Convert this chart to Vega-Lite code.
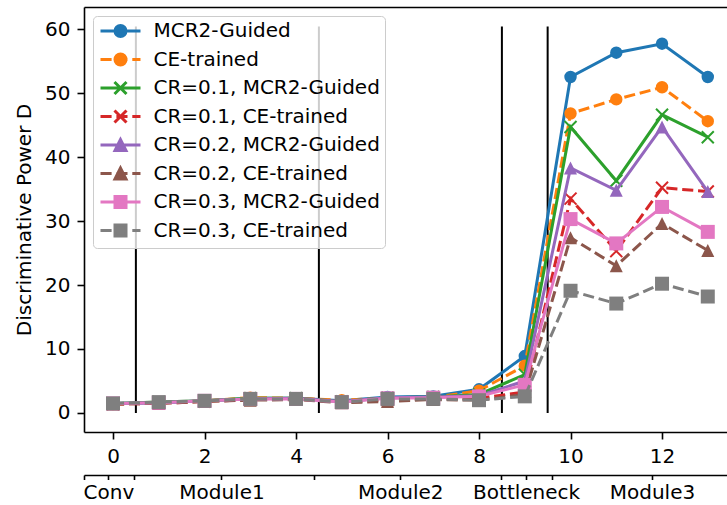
{
  "$schema": "https://vega.github.io/schema/vega-lite/v6.json",
  "width": 643,
  "height": 425,
  "autosize": {"type": "none"},
  "padding": {"left": 84, "top": 7, "right": 0, "bottom": 73},
  "config": {
    "view": {"stroke": null},
    "font": "DejaVu Sans",
    "axis": {
      "grid": false,
      "domainColor": "#000000",
      "domainWidth": 1.6,
      "tickColor": "#000000",
      "tickWidth": 1.6,
      "tickSize": 7,
      "labelColor": "#000000",
      "labelFont": "DejaVu Sans",
      "labelFontSize": 20,
      "labelPadding": 7,
      "titleColor": "#000000",
      "titleFont": "DejaVu Sans",
      "titleFontSize": 20,
      "titleFontWeight": "normal"
    },
    "legend": {"orient": "top-left", "offset": 9, "padding": 5, "fillColor": "rgba(255,255,255,0.8)", "strokeColor": "#cccccc", "cornerRadius": 4, "labelFont": "DejaVu Sans", "labelFontSize": 20, "labelColor": "#000000", "labelLimit": 400, "symbolSize": 144, "symbolStrokeWidth": 3, "symbolOffset": 12.5, "labelOffset": 23, "rowPadding": 4.5, "symbolOpacity": 1, "symbolFillColor": "#000000", "symbolStrokeColor": "#000000"}
  },
  "datasets": {
    "series": [
      {"s": "MCR2-Guided", "x": 0, "y": 1.5}, {"s": "MCR2-Guided", "x": 1, "y": 1.6}, {"s": "MCR2-Guided", "x": 2, "y": 1.9}, {"s": "MCR2-Guided", "x": 3, "y": 2.3}, {"s": "MCR2-Guided", "x": 4, "y": 2.3}, {"s": "MCR2-Guided", "x": 5, "y": 1.9}, {"s": "MCR2-Guided", "x": 6, "y": 2.5}, {"s": "MCR2-Guided", "x": 7, "y": 2.6}, {"s": "MCR2-Guided", "x": 8, "y": 3.7}, {"s": "MCR2-Guided", "x": 9, "y": 8.9}, {"s": "MCR2-Guided", "x": 10, "y": 52.5}, {"s": "MCR2-Guided", "x": 11, "y": 56.3}, {"s": "MCR2-Guided", "x": 12, "y": 57.7}, {"s": "MCR2-Guided", "x": 13, "y": 52.5},
      {"s": "CE-trained", "x": 0, "y": 1.4}, {"s": "CE-trained", "x": 1, "y": 1.6}, {"s": "CE-trained", "x": 2, "y": 1.9}, {"s": "CE-trained", "x": 3, "y": 2.4}, {"s": "CE-trained", "x": 4, "y": 2.3}, {"s": "CE-trained", "x": 5, "y": 2.0}, {"s": "CE-trained", "x": 6, "y": 2.3}, {"s": "CE-trained", "x": 7, "y": 2.4}, {"s": "CE-trained", "x": 8, "y": 3.5}, {"s": "CE-trained", "x": 9, "y": 7.4}, {"s": "CE-trained", "x": 10, "y": 46.8}, {"s": "CE-trained", "x": 11, "y": 49.0}, {"s": "CE-trained", "x": 12, "y": 50.9}, {"s": "CE-trained", "x": 13, "y": 45.6},
      {"s": "CR=0.1, MCR2-Guided", "x": 0, "y": 1.5}, {"s": "CR=0.1, MCR2-Guided", "x": 1, "y": 1.7}, {"s": "CR=0.1, MCR2-Guided", "x": 2, "y": 1.9}, {"s": "CR=0.1, MCR2-Guided", "x": 3, "y": 2.3}, {"s": "CR=0.1, MCR2-Guided", "x": 4, "y": 2.3}, {"s": "CR=0.1, MCR2-Guided", "x": 5, "y": 1.8}, {"s": "CR=0.1, MCR2-Guided", "x": 6, "y": 2.4}, {"s": "CR=0.1, MCR2-Guided", "x": 7, "y": 2.5}, {"s": "CR=0.1, MCR2-Guided", "x": 8, "y": 2.9}, {"s": "CR=0.1, MCR2-Guided", "x": 9, "y": 6.0}, {"s": "CR=0.1, MCR2-Guided", "x": 10, "y": 44.7}, {"s": "CR=0.1, MCR2-Guided", "x": 11, "y": 36.3}, {"s": "CR=0.1, MCR2-Guided", "x": 12, "y": 46.6}, {"s": "CR=0.1, MCR2-Guided", "x": 13, "y": 43.1},
      {"s": "CR=0.1, CE-trained", "x": 0, "y": 1.4}, {"s": "CR=0.1, CE-trained", "x": 1, "y": 1.5}, {"s": "CR=0.1, CE-trained", "x": 2, "y": 1.8}, {"s": "CR=0.1, CE-trained", "x": 3, "y": 2.1}, {"s": "CR=0.1, CE-trained", "x": 4, "y": 2.2}, {"s": "CR=0.1, CE-trained", "x": 5, "y": 1.7}, {"s": "CR=0.1, CE-trained", "x": 6, "y": 2.0}, {"s": "CR=0.1, CE-trained", "x": 7, "y": 2.2}, {"s": "CR=0.1, CE-trained", "x": 8, "y": 2.3}, {"s": "CR=0.1, CE-trained", "x": 9, "y": 3.3}, {"s": "CR=0.1, CE-trained", "x": 10, "y": 33.5}, {"s": "CR=0.1, CE-trained", "x": 11, "y": 25.3}, {"s": "CR=0.1, CE-trained", "x": 12, "y": 35.2}, {"s": "CR=0.1, CE-trained", "x": 13, "y": 34.6},
      {"s": "CR=0.2, MCR2-Guided", "x": 0, "y": 1.5}, {"s": "CR=0.2, MCR2-Guided", "x": 1, "y": 1.6}, {"s": "CR=0.2, MCR2-Guided", "x": 2, "y": 1.9}, {"s": "CR=0.2, MCR2-Guided", "x": 3, "y": 2.2}, {"s": "CR=0.2, MCR2-Guided", "x": 4, "y": 2.3}, {"s": "CR=0.2, MCR2-Guided", "x": 5, "y": 1.8}, {"s": "CR=0.2, MCR2-Guided", "x": 6, "y": 2.4}, {"s": "CR=0.2, MCR2-Guided", "x": 7, "y": 2.5}, {"s": "CR=0.2, MCR2-Guided", "x": 8, "y": 2.7}, {"s": "CR=0.2, MCR2-Guided", "x": 9, "y": 5.0}, {"s": "CR=0.2, MCR2-Guided", "x": 10, "y": 38.3}, {"s": "CR=0.2, MCR2-Guided", "x": 11, "y": 34.8}, {"s": "CR=0.2, MCR2-Guided", "x": 12, "y": 44.7}, {"s": "CR=0.2, MCR2-Guided", "x": 13, "y": 34.6},
      {"s": "CR=0.2, CE-trained", "x": 0, "y": 1.4}, {"s": "CR=0.2, CE-trained", "x": 1, "y": 1.5}, {"s": "CR=0.2, CE-trained", "x": 2, "y": 1.8}, {"s": "CR=0.2, CE-trained", "x": 3, "y": 2.0}, {"s": "CR=0.2, CE-trained", "x": 4, "y": 2.1}, {"s": "CR=0.2, CE-trained", "x": 5, "y": 1.6}, {"s": "CR=0.2, CE-trained", "x": 6, "y": 1.8}, {"s": "CR=0.2, CE-trained", "x": 7, "y": 2.1}, {"s": "CR=0.2, CE-trained", "x": 8, "y": 2.0}, {"s": "CR=0.2, CE-trained", "x": 9, "y": 2.9}, {"s": "CR=0.2, CE-trained", "x": 10, "y": 27.4}, {"s": "CR=0.2, CE-trained", "x": 11, "y": 23.0}, {"s": "CR=0.2, CE-trained", "x": 12, "y": 29.6}, {"s": "CR=0.2, CE-trained", "x": 13, "y": 25.4},
      {"s": "CR=0.3, MCR2-Guided", "x": 0, "y": 1.5}, {"s": "CR=0.3, MCR2-Guided", "x": 1, "y": 1.6}, {"s": "CR=0.3, MCR2-Guided", "x": 2, "y": 1.9}, {"s": "CR=0.3, MCR2-Guided", "x": 3, "y": 2.2}, {"s": "CR=0.3, MCR2-Guided", "x": 4, "y": 2.2}, {"s": "CR=0.3, MCR2-Guided", "x": 5, "y": 1.7}, {"s": "CR=0.3, MCR2-Guided", "x": 6, "y": 2.3}, {"s": "CR=0.3, MCR2-Guided", "x": 7, "y": 2.4}, {"s": "CR=0.3, MCR2-Guided", "x": 8, "y": 2.6}, {"s": "CR=0.3, MCR2-Guided", "x": 9, "y": 4.4}, {"s": "CR=0.3, MCR2-Guided", "x": 10, "y": 30.3}, {"s": "CR=0.3, MCR2-Guided", "x": 11, "y": 26.5}, {"s": "CR=0.3, MCR2-Guided", "x": 12, "y": 32.2}, {"s": "CR=0.3, MCR2-Guided", "x": 13, "y": 28.3},
      {"s": "CR=0.3, CE-trained", "x": 0, "y": 1.5}, {"s": "CR=0.3, CE-trained", "x": 1, "y": 1.7}, {"s": "CR=0.3, CE-trained", "x": 2, "y": 1.9}, {"s": "CR=0.3, CE-trained", "x": 3, "y": 2.2}, {"s": "CR=0.3, CE-trained", "x": 4, "y": 2.2}, {"s": "CR=0.3, CE-trained", "x": 5, "y": 1.7}, {"s": "CR=0.3, CE-trained", "x": 6, "y": 2.2}, {"s": "CR=0.3, CE-trained", "x": 7, "y": 2.2}, {"s": "CR=0.3, CE-trained", "x": 8, "y": 2.0}, {"s": "CR=0.3, CE-trained", "x": 9, "y": 2.6}, {"s": "CR=0.3, CE-trained", "x": 10, "y": 19.1}, {"s": "CR=0.3, CE-trained", "x": 11, "y": 17.1}, {"s": "CR=0.3, CE-trained", "x": 12, "y": 20.2}, {"s": "CR=0.3, CE-trained", "x": 13, "y": 18.2}
    ],
    "vlines": [
      {"x": 0.5, "y": 0, "y2": 60.4}, {"x": 4.5, "y": 0, "y2": 60.4}, {"x": 8.5, "y": 0, "y2": 60.4}, {"x": 9.5, "y": 0, "y2": 60.4}
    ],
    "one": [{"x": 0}]
  },
  "layer": [
    {
      "encoding": {
        "x": {"field": "x", "type": "quantitative", "scale": {"domain": [-0.634, 13.42], "nice": false, "zero": false},
              "axis": {"orient": "bottom", "values": [0, 2, 4, 6, 8, 10, 12], "title": null}},
        "y": {"field": "y", "type": "quantitative", "scale": {"domain": [-2.97, 63.44], "nice": false, "zero": false},
              "axis": {"values": [0, 10, 20, 30, 40, 50, 60], "title": "Discriminative Power D", "titlePadding": 10}}
      },
      "layer": [
        {"data": {"name": "vlines"}, "mark": {"type": "rule", "color": "#000000", "strokeWidth": 2}, "encoding": {"y2": {"field": "y2"}}},
        {"data": {"name": "series"}, "transform": [{"filter": {"field": "s", "equal": "MCR2-Guided"}}],
         "mark": {"type": "line", "strokeWidth": 3, "point": {"shape": "circle", "size": 154, "filled": true}},
         "encoding": {"color": {"field": "s", "type": "nominal", "title": null, "scale": {"domain": ["MCR2-Guided", "CE-trained", "CR=0.1, MCR2-Guided", "CR=0.1, CE-trained", "CR=0.2, MCR2-Guided", "CR=0.2, CE-trained", "CR=0.3, MCR2-Guided", "CR=0.3, CE-trained"], "range": ["#1f77b4", "#ff7f0e", "#2ca02c", "#d62728", "#9467bd", "#8c564b", "#e377c2", "#7f7f7f"]}}}},
        {"data": {"name": "series"}, "transform": [{"filter": {"field": "s", "equal": "CE-trained"}}],
         "mark": {"type": "line", "strokeWidth": 3, "strokeDash": [11.1, 4.8], "point": {"shape": "circle", "size": 154, "filled": true}},
         "encoding": {"color": {"field": "s", "type": "nominal", "title": null}}},
        {"data": {"name": "series"}, "transform": [{"filter": {"field": "s", "equal": "CR=0.1, MCR2-Guided"}}],
         "mark": {"type": "line", "strokeWidth": 3, "point": {"shape": "M-1,-1L1,1M-1,1L1,-1", "size": 144, "filled": false, "strokeWidth": 2}},
         "encoding": {"color": {"field": "s", "type": "nominal", "title": null}}},
        {"data": {"name": "series"}, "transform": [{"filter": {"field": "s", "equal": "CR=0.1, CE-trained"}}],
         "mark": {"type": "line", "strokeWidth": 3, "strokeDash": [11.1, 4.8], "point": {"shape": "M-1,-1L1,1M-1,1L1,-1", "size": 144, "filled": false, "strokeWidth": 2}},
         "encoding": {"color": {"field": "s", "type": "nominal", "title": null}}},
        {"data": {"name": "series"}, "transform": [{"filter": {"field": "s", "equal": "CR=0.2, MCR2-Guided"}}],
         "mark": {"type": "line", "strokeWidth": 3, "point": {"shape": "M0,-1L-1,1L1,1Z", "size": 169, "filled": true}},
         "encoding": {"color": {"field": "s", "type": "nominal", "title": null}}},
        {"data": {"name": "series"}, "transform": [{"filter": {"field": "s", "equal": "CR=0.2, CE-trained"}}],
         "mark": {"type": "line", "strokeWidth": 3, "strokeDash": [11.1, 4.8], "point": {"shape": "M0,-1L-1,1L1,1Z", "size": 169, "filled": true}},
         "encoding": {"color": {"field": "s", "type": "nominal", "title": null}}},
        {"data": {"name": "series"}, "transform": [{"filter": {"field": "s", "equal": "CR=0.3, MCR2-Guided"}}],
         "mark": {"type": "line", "strokeWidth": 3, "point": {"shape": "square", "size": 196, "filled": true}},
         "encoding": {"color": {"field": "s", "type": "nominal", "title": null}}},
        {"data": {"name": "series"}, "transform": [{"filter": {"field": "s", "equal": "CR=0.3, CE-trained"}}],
         "mark": {"type": "line", "strokeWidth": 3, "strokeDash": [11.1, 4.8], "point": {"shape": "square", "size": 196, "filled": true}},
         "encoding": {"color": {"field": "s", "type": "nominal", "title": null}}},
        {"data": {"name": "series"},
         "mark": {"type": "point", "filled": true, "opacity": 0},
         "encoding": {
           "shape": {"field": "s", "type": "nominal", "title": null,
             "scale": {"domain": ["MCR2-Guided", "CE-trained", "CR=0.1, MCR2-Guided", "CR=0.1, CE-trained", "CR=0.2, MCR2-Guided", "CR=0.2, CE-trained", "CR=0.3, MCR2-Guided", "CR=0.3, CE-trained"],
                     "range": [
                       "M-3.333,0L3.333,0M0.917,0C0.917,0.507 0.507,0.917 0,0.917C-0.507,0.917 -0.917,0.507 -0.917,0C-0.917,-0.507 -0.507,-0.917 0,-0.917C0.507,-0.917 0.917,-0.507 0.917,0Z",
                       "M-3.333,0L-1.483,0M-0.683,0L1.167,0M1.967,0L3.333,0M0.917,0C0.917,0.507 0.507,0.917 0,0.917C-0.507,0.917 -0.917,0.507 -0.917,0C-0.917,-0.507 -0.507,-0.917 0,-0.917C0.507,-0.917 0.917,-0.507 0.917,0Z",
                       "M-3.333,0L3.333,0M-1,-1L1,1M-1,1L1,-1",
                       "M-3.333,0L-1.483,0M-0.683,0L1.167,0M1.967,0L3.333,0M-1,-1L1,1M-1,1L1,-1",
                       "M-3.333,0L3.333,0M0,-0.917L-0.917,0.917L0.917,0.917Z",
                       "M-3.333,0L-1.483,0M-0.683,0L1.167,0M1.967,0L3.333,0M0,-0.917L-0.917,0.917L0.917,0.917Z",
                       "M-3.333,0L3.333,0M-0.917,-0.917L0.917,-0.917L0.917,0.917L-0.917,0.917Z",
                       "M-3.333,0L-1.483,0M-0.683,0L1.167,0M1.967,0L3.333,0M-0.917,-0.917L0.917,-0.917L0.917,0.917L-0.917,0.917Z"
                     ]}}
         }}
      ]
    },
    {
      "data": {"name": "one"},
      "mark": {"type": "point", "opacity": 0},
      "encoding": {"x": {"field": "x", "type": "quantitative", "scale": {"domain": [-0.634, 13.42], "nice": false, "zero": false},
        "axis": {"orient": "bottom", "offset": 43, "values": [-0.63, -0.1, 0.46, 2.37, 4.4, 6.28, 8.47, 9.03, 9.6, 11.78], "labels": false, "tickSize": 4.5, "title": null}}}
    },
    {
      "data": {"name": "one"},
      "mark": {"type": "point", "opacity": 0},
      "encoding": {"x": {"field": "x", "type": "quantitative", "scale": {"domain": [-0.634, 13.42], "nice": false, "zero": false},
        "axis": {"orient": "bottom", "offset": 43, "values": [-0.1, 2.37, 6.28, 9.03, 11.78], "ticks": false, "tickSize": 0, "domain": false, "labelPadding": 7, "title": null,
          "labelExpr": "datum.value < 1 ? 'Conv' : datum.value < 4 ? 'Module1' : datum.value < 8 ? 'Module2' : datum.value < 10 ? 'Bottleneck' : 'Module3'"}}}
    },
    {
      "data": {"name": "one"},
      "mark": {"type": "point", "opacity": 0},
      "encoding": {"x": {"field": "x", "type": "quantitative", "scale": {"domain": [-0.634, 13.42], "nice": false, "zero": false},
        "axis": {"orient": "top", "labels": false, "ticks": false, "domain": true, "title": null}}}
    }
  ],
  "resolve": {"scale": {"x": "independent"}}
}
